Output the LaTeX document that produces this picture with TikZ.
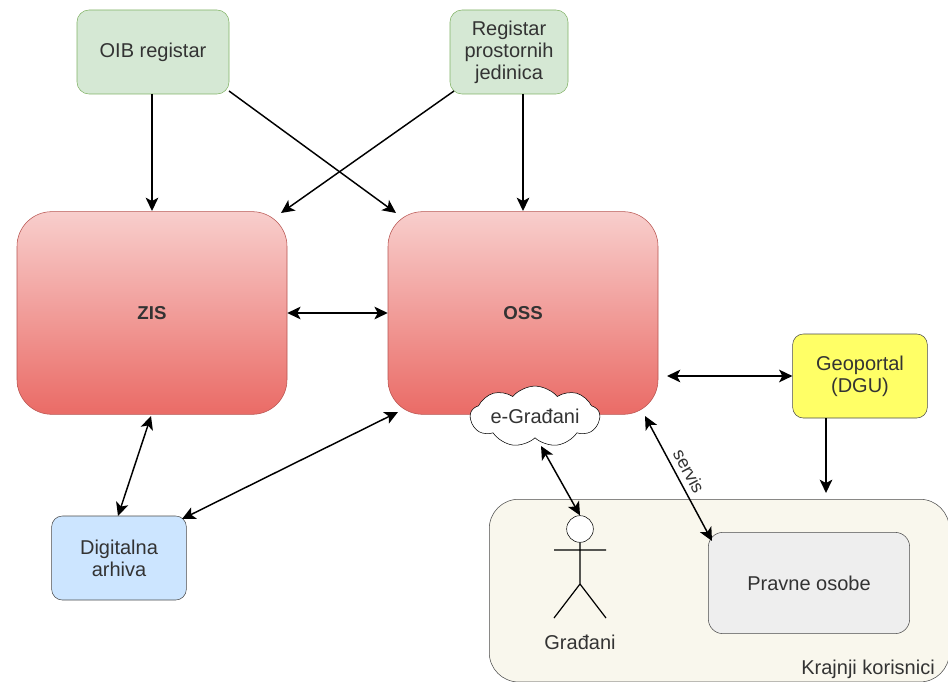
\documentclass[tikz,border=0pt]{standalone}
\usepackage{fontspec}
\setmainfont{Liberation Sans}
\usetikzlibrary{arrows.meta,shapes.symbols,calc}
\definecolor{gfill}{HTML}{D5E8D4}
\definecolor{gline}{HTML}{82B366}
\definecolor{rtop}{HTML}{F8CECC}
\definecolor{rbot}{HTML}{EA6B66}
\definecolor{rline}{HTML}{B85450}
\definecolor{bfill}{HTML}{CCE5FF}
\definecolor{yfill}{HTML}{FFFF66}
\definecolor{bgfill}{HTML}{F9F7ED}
\definecolor{grfill}{HTML}{EEEEEE}
\definecolor{txt}{HTML}{333333}
\tikzset{
 px/.style={x=0.75pt,y=-0.75pt},
 base/.style={draw,align=center,text=txt,font=\fontsize{15}{16.4}\selectfont,inner sep=0pt},
 greenbox/.style={base,fill=gfill,draw=gline,rounded corners=9pt,minimum height=63pt},
 redbox/.style={base,draw=rline,top color=rtop,bottom color=rbot,rounded corners=26pt,minimum width=202.5pt,minimum height=152pt,font=\fontsize{14}{16}\selectfont\bfseries},
 plainlabel/.style={base,draw=none},
 darkbox/.style={base,draw=black!70,rounded corners=8pt,minimum width=101pt,minimum height=63pt},
 conn/.style={black,line width=1.1pt,{Stealth[length=10pt,width=9.5pt,inset=2.5pt]}-{Stealth[length=10pt,width=9.5pt,inset=2.5pt]}},
 oneway/.style={black,line width=1.1pt,-{Stealth[length=10pt,width=9.5pt,inset=2.5pt]}},
}
\begin{document}
\begin{tikzpicture}[px]
\useasboundingbox (0,0) rectangle (948,681);
\fill[white] (0,0) rectangle (948,681);
\node[base,fill=bgfill,draw=black!70,rounded corners=22pt,minimum width=345pt,minimum height=137pt,anchor=north west] (end) at (489,499) {};
\node[plainlabel,anchor=south east] (endl) at (935,679) {Krajnji korisnici};
\node[greenbox,minimum width=114pt] (oib) at (153,52) {OIB registar};
\node[greenbox,minimum width=88.5pt] (reg) at (509,52) {Registar\\prostornih\\jedinica};
\node[redbox] (zis) at (152,313) {ZIS};
\node[redbox] (oss) at (523,313) {OSS};
\node[darkbox,fill=yfill] (geo) at (860,376) {Geoportal\\(DGU)};
\node[darkbox,fill=bfill] (arh) at (119,558) {Digitalna\\arhiva};
\node[darkbox,fill=grfill,rounded corners=11pt,minimum width=151pt,minimum height=76pt] (prav) at (809,583) {Pravne osobe};
\node[cloud,draw=black,fill=white,cloud puffs=9,cloud puff arc=100,aspect=2.9,inner sep=0pt,minimum width=97pt,minimum height=41pt,text=txt,font=\fontsize{15}{16}\selectfont] (cloud) at (535,416.5) {e-Građani};
\node[circle,draw=black,fill=white,minimum size=20pt,inner sep=0pt] (head) at (580,529) {};
\coordinate (hip) at (580,584);
\coordinate (la) at (554,550);
\coordinate (ra) at (606,550);
\coordinate (lf) at (554,618);
\coordinate (rf) at (606,618);
\draw[black,line width=0.9pt] (head.south) -- (hip) (la) -- (ra) (lf) -- (hip) -- (rf);
\node[plainlabel] (grad) at (580,642) {Građani};
\coordinate (a1) at (152,94);\coordinate (a2) at (152,211);
\draw[oneway] (a1) -- (a2);
\coordinate (b1) at (229,91);\coordinate (b2) at (396,213);
\draw[oneway] (b1) -- (b2);
\coordinate (c1) at (454,91);\coordinate (c2) at (281,213);
\draw[oneway] (c1) -- (c2);
\coordinate (d1) at (523,94);\coordinate (d2) at (523,211);
\draw[oneway] (d1) -- (d2);
\draw[conn] (zis.east) -- (oss.west);
\coordinate (e1) at (667,376);
\draw[conn] (e1) -- (geo.west);
\coordinate (f2) at (826,493);
\draw[oneway] (geo.south -| f2) -- (f2);
\coordinate (g1) at (151,416);\coordinate (g2) at (118,516);
\draw[conn] (g1) -- (g2);
\coordinate (h1) at (398,412);\coordinate (h2) at (182,519);
\draw[conn] (h1) -- (h2);
\coordinate (i1) at (541,446);
\draw[conn] (i1) -- (head.north);
\coordinate (j1) at (645,416);\coordinate (j2) at (712,541);
\draw[conn] (j1) -- (j2);
\node[plainlabel,rotate=-62,font=\fontsize{13.5}{15}\selectfont] (serv) at (689,471) {servis};
\end{tikzpicture}
\end{document}
